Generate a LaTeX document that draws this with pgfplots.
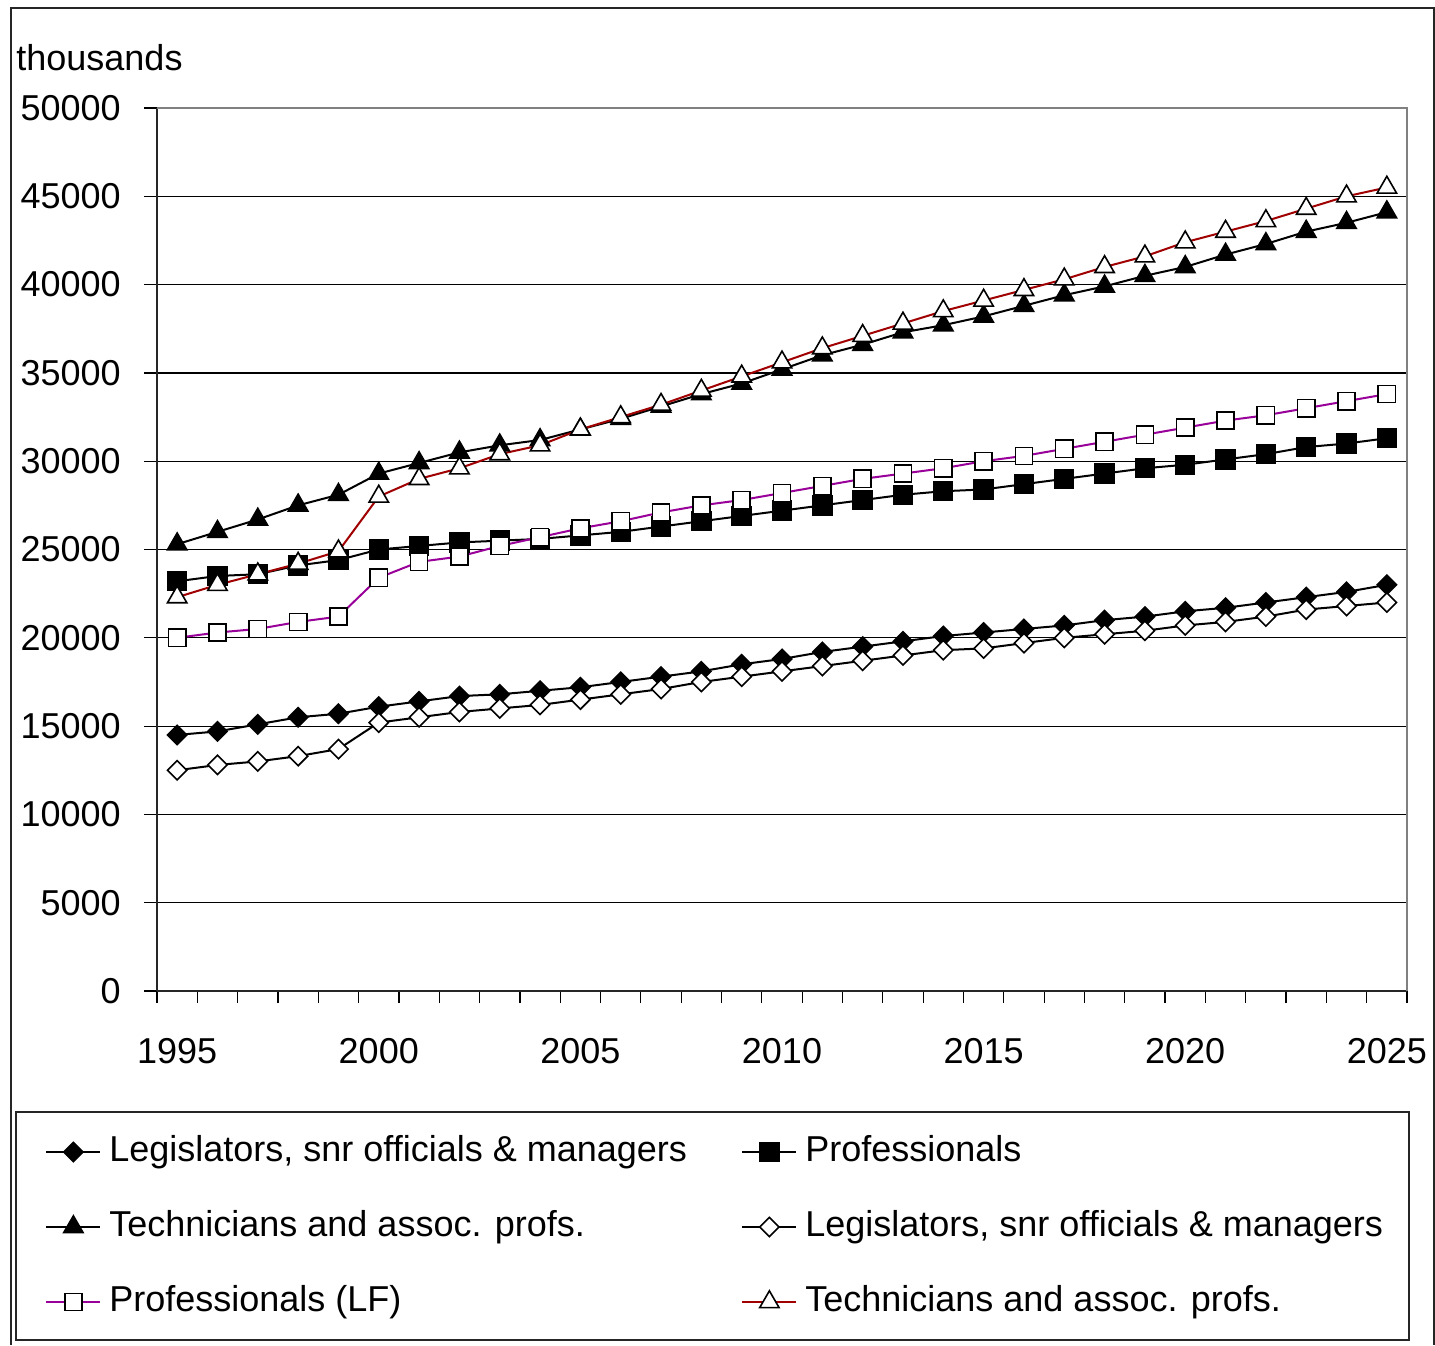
\documentclass[border=0pt]{standalone}
\usepackage{pgfplots}
\pgfplotsset{compat=1.18}
\usepackage{pgfplotstable}
\usepackage{fontspec}
\setmainfont{Liberation Sans}

\definecolor{darkred}{RGB}{160,0,0}
\definecolor{purp}{RGB}{153,0,153}
\definecolor{border}{RGB}{128,128,128}

% thousands; lf = labour force variants
\pgfplotstableread{
year leg prof tech leglf proflf techlf
1995 14500 23200 25300 12500 20000 22300
1996 14700 23500 26000 12800 20300 23000
1997 15100 23600 26700 13000 20500 23600
1998 15500 24100 27500 13300 20900 24200
1999 15700 24400 28100 13700 21200 24900
2000 16100 25000 29300 15200 23400 28000
2001 16400 25200 29900 15500 24300 29000
2002 16700 25400 30500 15800 24600 29600
2003 16800 25500 30900 16000 25200 30400
2004 17000 25600 31200 16200 25700 30900
2005 17200 25800 31800 16500 26200 31800
2006 17500 26000 32400 16800 26600 32500
2007 17800 26300 33100 17100 27100 33200
2008 18100 26600 33800 17500 27500 34000
2009 18500 26900 34400 17800 27800 34800
2010 18800 27200 35200 18100 28200 35600
2011 19200 27500 36000 18400 28600 36400
2012 19500 27800 36600 18700 29000 37100
2013 19800 28100 37300 19000 29300 37800
2014 20100 28300 37700 19300 29600 38500
2015 20300 28400 38200 19400 30000 39100
2016 20500 28700 38800 19700 30300 39700
2017 20700 29000 39400 20000 30700 40300
2018 21000 29300 39900 20200 31100 41000
2019 21200 29600 40500 20400 31500 41600
2020 21500 29800 41000 20700 31900 42400
2021 21700 30100 41700 20900 32300 43000
2022 22000 30400 42300 21200 32600 43600
2023 22300 30800 43000 21600 33000 44300
2024 22600 31000 43500 21800 33400 45000
2025 23000 31300 44100 22000 33800 45500
}\jobs

\begin{document}
\fontsize{18}{21.6}\selectfont
\begin{tikzpicture}[font=\fontsize{18}{21.6}\selectfont]
\useasboundingbox (-78.5pt,-177pt) rectangle (639pt,495.5pt);
\begin{axis}[
    scale only axis, width=625pt, height=441.5pt,
    xmin=1994.5, xmax=2025.5, ymin=0, ymax=50000,
    axis x line*=bottom, axis y line*=left,
    axis line style={line width=0.8pt, black!85},
    xtick={1995,2000,...,2025},
    minor xtick={1994.5,1995.5,...,2025.5},
    ytick={0,5000,...,50000},
    scaled y ticks=false,
    tick align=outside,
    major tick length=6.5pt, minor tick length=6pt,
    major x tick style={draw=none},
    minor x tick style={black, line width=0.6pt},
    major y tick style={black, line width=0.6pt},
    ymajorgrids, major grid style={black, line width=0.6pt},
    /pgf/number format/1000 sep={},
    /pgf/number format/assume math mode=true,
    xticklabel style={yshift=-11pt},
    yticklabel style={xshift=-5.5pt},
    ylabel={thousands},
    every axis y label/.style={at={(rel axis cs:0,1)}, anchor=base west,
        inner sep=0pt, xshift=-70.5pt, yshift=19pt},
    legend columns=2,
    legend style={draw=none, fill=none, inner sep=0pt,
        at={(axis description cs:-0.0896,-0.2673)}, anchor=west,
        nodes={inner sep=0pt, text height=13pt, text depth=4pt},
        /tikz/column sep=4pt, /tikz/row sep=20.5pt},
    legend cell align=left,
    legend image code/.code={\draw[mark repeat=2,mark phase=2]
        plot coordinates {(0pt,0pt) (13.5pt,0pt) (27pt,0pt)};},
    every axis plot/.append style={line width=1pt},
]
\addplot[black, mark=square*, mark size=3.4pt,
    mark options={rotate=45, fill=black, line width=0.8pt}]
    table[x=year, y=leg] {\jobs};
\addlegendentry{\makebox[312pt][l]{Legislators, snr officials \& managers}}
\addplot[black, mark=square*, mark size=4.7pt,
    mark options={fill=black, line width=0.8pt}]
    table[x=year, y=prof] {\jobs};
\addlegendentry{Professionals}
\addplot[black, mark=triangle*, mark size=5.6pt,
    mark options={fill=black, line width=0.8pt}]
    table[x=year, y=tech] {\jobs};
\addlegendentry{\makebox[312pt][l]{Technicians and assoc. profs.}}
\addplot[black, mark=square*, mark size=3.4pt,
    mark options={rotate=45, fill=white, draw=black, line width=0.8pt}]
    table[x=year, y=leglf] {\jobs};
\addlegendentry{Legislators, snr officials \& managers}
\addplot[purp, mark=square*, mark size=4.3pt,
    mark options={fill=white, draw=black, line width=0.8pt}]
    table[x=year, y=proflf] {\jobs};
\addlegendentry{\makebox[312pt][l]{Professionals (LF)}}
\addplot[darkred, mark=triangle*, mark size=5.6pt,
    mark options={fill=white, draw=black, line width=0.8pt}]
    table[x=year, y=techlf] {\jobs};
\addlegendentry{Technicians and assoc. profs.}
\end{axis}
% plot-area border (grey), legend box and chart frame
\draw[border, line width=0.9pt] (0pt,441.5pt) -- (625pt,441.5pt) -- (625pt,0pt);
\draw[black!85, line width=0.6pt] (-70.5pt,-60.5pt) rectangle (626pt,-174.5pt);
\draw[black!85, line width=0.7pt] (-73pt,-177pt) -- (-73pt,491.5pt) -- (638.5pt,491.5pt) -- (638.5pt,-177pt);
\end{tikzpicture}
\end{document}
